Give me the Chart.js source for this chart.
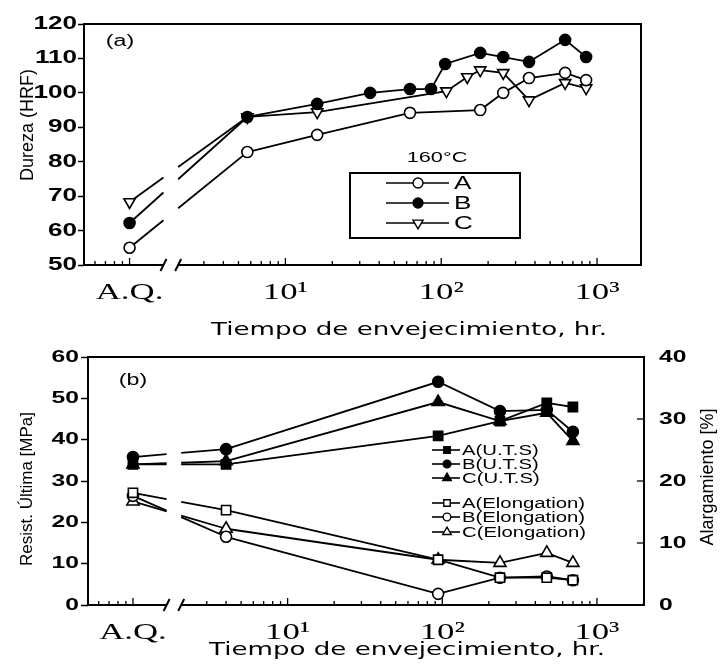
<!DOCTYPE html>
<html>
<head>
<meta charset="utf-8">
<script src="https://cdn.jsdelivr.net/npm/chart.js@4.4.1/dist/chart.umd.min.js"></script>
<style>
  html, body { margin: 0; padding: 0; background: #fff; }
  #wrap { position: relative; width: 722px; height: 664px; overflow: hidden; }
  canvas { position: absolute; left: 0; }
  #chartA { top: 0; width: 722px; height: 350px; }
  #chartB { top: 330px; width: 722px; height: 334px; }
</style>
</head>
<body>
<div id="wrap">
  <canvas id="chartA" width="722" height="350"></canvas>
  <canvas id="chartB" width="722" height="334"></canvas>
</div>
<script>
// ---- Datos (A.Q. = "as quenched", dibujado en x = 1) ----
var horasA = [1, 5.7, 16, 63, 178, 250, 366, 624, 851];
var durezaA = [55, 82.8, 87.8, 94.2, 95, 100, 104.3, 105.8, 103.7];
var horasB = [1, 5.7, 16, 35, 63, 86, 106, 178, 250, 366, 624, 851];
var durezaB = [62.2, 93, 96.8, 100, 101.1, 101.1, 108.4, 111.6, 110.4, 109, 115.4, 110.4];
var horasC = [1, 5.7, 16, 108, 147, 178, 250, 366, 624, 851];
var durezaC = [68.3, 93, 94.4, 100.5, 104.6, 106.6, 105.8, 97.9, 102.9, 101.4];

var horasTraccion = [1, 4, 94, 236, 474, 699];
var utsA = [34, 34, 40.9, 44.5, 48.9, 47.9];
var utsB = [35.8, 37.7, 54, 46.9, 47.2, 41.9];
var utsC = [34, 34.8, 49.1, 44.5, 46.5, 39.7];
var elongA = [18.1, 15.3, 7.3, 4.4, 4.4, 4.0];
var elongB = [17.6, 11, 1.8, 4.4, 4.6, 4.0];
var elongC = [16.7, 12.3, 7.3, 6.8, 8.4, 6.8];

var ticksLog = [1, 10, 100, 1000];
var ticksLogTexto = ['A.Q.', '10\u00b9', '10\u00b2', '10\u00b3'];

// ---- Apariencia ----
var SX = 1.45;            // el escaneo original tiene el texto estirado en horizontal
var CORTE = [1.65, 2.05]; // zona del corte del eje entre A.Q. y las horas

function estirarTexto(canvas) {
  var ctx = canvas.getContext('2d');
  var fill = ctx.fillText;
  ctx.fillText = function (t, x, y) {
    var m = this.getTransform();
    if (Math.abs(m.b) > 0.01) return fill.call(this, t, x, y); // texto girado: sin estirar
    this.save();
    this.translate(x, y);
    this.scale(SX, 1);
    fill.call(this, t, 0, 0);
    this.restore();
  };
}

function puntos(xs, ys) {
  return xs.map(function (x, i) { return { x: x, y: ys[i] }; });
}

// hueco en el primer tramo de cada línea, a la altura del corte del eje
function corteSegmento(ctx) {
  if (ctx.p0DataIndex !== 0) return undefined;
  var xs = ctx.chart.scales.x;
  var g0 = xs.getPixelForValue(CORTE[0]), g1 = xs.getPixelForValue(CORTE[1]);
  var dx = ctx.p1.x - ctx.p0.x;
  var len = Math.hypot(dx, ctx.p1.y - ctx.p0.y);
  var k = len / dx;
  return [(g0 - ctx.p0.x) * k, (g1 - g0) * k, len];
}

function serie(label, data, estilo, lleno, radio, extra) {
  var ds = {
    label: label,
    data: data,
    borderColor: '#000',
    borderWidth: 1.8,
    tension: 0,
    pointStyle: estilo,
    pointRadius: radio,
    pointBackgroundColor: lleno ? '#000' : '#fff',
    pointBorderColor: '#000',
    pointBorderWidth: 1.6,
    segment: { borderDash: corteSegmento }
  };
  return Object.assign(ds, extra || {});
}

function ejeX(min, max, alto) {
  return {
    type: 'logarithmic',
    min: min,
    max: max,
    afterBuildTicks: function (s) {
      s.ticks = ticksLog.map(function (v) { return { value: v }; });
    },
    afterFit: function (s) { s.height = alto; },
    ticks: {
      padding: 5,
      color: '#000',
      maxRotation: 0,
      autoSkip: false,
      font: { family: 'Liberation Serif', size: 24 },
      callback: function (v) {
        var i = ticksLog.indexOf(v);
        return i < 0 ? '' : ticksLogTexto[i];
      }
    },
    grid: { display: false },
    border: { display: false }
  };
}

var decor = {
  id: 'decor',
  afterDraw: function (chart, args, o) {
    var ctx = chart.ctx, a = chart.chartArea, xs = chart.scales.x;
    ctx.save();
    ctx.strokeStyle = '#000';
    ctx.fillStyle = '#000';
    ctx.lineWidth = 2;
    ctx.strokeRect(a.left, a.top, a.right - a.left, a.bottom - a.top);

    // marcas menores del eje logarítmico, hacia adentro
    ctx.lineWidth = 1.3;
    for (var n = -1; n <= 3; n++) {
      for (var k = 1; k <= 9; k++) {
        var v = k * Math.pow(10, n);
        if (v <= xs.min || v >= xs.max || (v > CORTE[0] - 0.15 && v < CORTE[1] + 0.2)) continue;
        var px = xs.getPixelForValue(v);
        ctx.beginPath();
        ctx.moveTo(px, a.bottom);
        ctx.lineTo(px, a.bottom - (k === 1 ? 7 : 4));
        ctx.stroke();
      }
    }

    // marcas del eje derecho, hacia adentro
    var y2 = chart.scales.y2;
    if (y2) {
      y2.ticks.forEach(function (t) {
        var py = y2.getPixelForValue(t.value);
        ctx.beginPath();
        ctx.moveTo(a.right, py);
        ctx.lineTo(a.right - 7, py);
        ctx.stroke();
      });
    }

    // corte del eje
    var g0 = xs.getPixelForValue(CORTE[0]), g1 = xs.getPixelForValue(CORTE[1]);
    ctx.fillStyle = '#fff';
    ctx.fillRect(g0, a.bottom - 3, g1 - g0, 6);
    ctx.lineWidth = 2;
    [g0, g1].forEach(function (g) {
      ctx.beginPath();
      ctx.moveTo(g - 3, a.bottom + 6);
      ctx.lineTo(g + 3, a.bottom - 6);
      ctx.stroke();
    });

    // textos sueltos y títulos de ejes
    ctx.fillStyle = '#000';
    o.textos.forEach(function (t) {
      ctx.save();
      ctx.font = t.font;
      ctx.textAlign = 'center';
      ctx.textBaseline = 'middle';
      ctx.translate(t.x, t.y);
      if (t.rot) ctx.rotate(t.rot * Math.PI / 180);
      ctx.fillText(t.t, 0, 0);
      ctx.restore();
    });

    // leyenda
    var lg = o.leyenda;
    if (lg.caja) {
      ctx.lineWidth = 2;
      ctx.strokeRect(lg.caja[0], lg.caja[1], lg.caja[2], lg.caja[3]);
    }
    ctx.font = lg.font;
    ctx.textAlign = 'left';
    ctx.textBaseline = 'middle';
    chart.data.datasets.forEach(function (ds, i) {
      var y = lg.filas[i];
      ctx.lineWidth = 1.6;
      ctx.strokeStyle = '#000';
      ctx.beginPath();
      ctx.moveTo(lg.linea[0], y);
      ctx.lineTo(lg.linea[1], y);
      ctx.stroke();
      ctx.fillStyle = ds.pointBackgroundColor;
      ctx.lineWidth = 1.4;
      Chart.helpers.drawPoint(ctx, {
        pointStyle: ds.pointStyle,
        rotation: ds.pointRotation || 0,
        radius: ds.pointRadius * lg.escala,
        borderWidth: 1.4
      }, lg.marca, y);
      ctx.fillStyle = '#000';
      ctx.fillText(ds.label, lg.texto, y + 1);
    });
    ctx.restore();
  }
};

Chart.defaults.font.family = 'Liberation Sans';
Chart.defaults.color = '#000';

// ---- (a) Dureza ----
var cA = document.getElementById('chartA');
estirarTexto(cA);
new Chart(cA, {
  type: 'line',
  data: {
    datasets: [
      serie('A', puntos(horasA, durezaA), 'circle', false, 5.5),
      serie('B', puntos(horasB, durezaB), 'circle', true, 5.5),
      serie('C', puntos(horasC, durezaC), 'triangle', false, 6.5, { pointRotation: 180 })
    ]
  },
  options: {
    responsive: false,
    animation: false,
    events: [],
    layout: { padding: { top: 24, right: 81, left: 0, bottom: 0 } },
    scales: {
      x: ejeX(0.51, 1915, 85),
      y: {
        min: 50,
        max: 120,
        afterFit: function (s) { s.width = 84; },
        ticks: { stepSize: 10, padding: 1, font: { size: 18, weight: 'bold' } },
        grid: { drawOnChartArea: false, tickLength: 6, tickColor: '#000', tickWidth: 1.5 },
        border: { display: false }
      }
    },
    plugins: {
      legend: { display: false },
      tooltip: { enabled: false },
      decor: {
        textos: [
          { t: '(a)', x: 120, y: 42, font: '16px Liberation Sans' },
          { t: '160\u00b0C', x: 437, y: 158, font: '15px Liberation Sans' },
          { t: 'Tiempo de envejecimiento, hr.', x: 409, y: 330, font: '18px DejaVu Sans' },
          { t: 'Dureza (HRF)', x: 28, y: 125, rot: -90, font: '18px Liberation Sans' }
        ],
        leyenda: {
          caja: [350, 173, 170, 65],
          filas: [183, 203, 223],
          linea: [386, 449],
          marca: 418,
          texto: 454,
          escala: 0.9,
          font: '18px Liberation Sans'
        }
      }
    }
  },
  plugins: [decor]
});

// ---- (b) Resistencia última y alargamiento ----
var cB = document.getElementById('chartB');
estirarTexto(cB);
new Chart(cB, {
  type: 'line',
  data: {
    datasets: [
      serie('A(U.T.S)', puntos(horasTraccion, utsA), 'rect', true, 6.5),
      serie('B(U.T.S)', puntos(horasTraccion, utsB), 'circle', true, 5.5),
      serie('C(U.T.S)', puntos(horasTraccion, utsC), 'triangle', true, 7),
      serie('A(Elongation)', puntos(horasTraccion, elongA), 'rect', false, 6.5, { yAxisID: 'y2' }),
      serie('B(Elongation)', puntos(horasTraccion, elongB), 'circle', false, 5.5, { yAxisID: 'y2' }),
      serie('C(Elongation)', puntos(horasTraccion, elongC), 'triangle', false, 7, { yAxisID: 'y2' })
    ]
  },
  options: {
    responsive: false,
    animation: false,
    events: [],
    layout: { padding: { top: 27, right: 0, left: 0, bottom: 0 } },
    scales: {
      x: ejeX(0.512, 2015, 59),
      y: {
        min: 0,
        max: 60,
        afterFit: function (s) { s.width = 88; },
        ticks: { stepSize: 10, padding: 2, font: { size: 17, weight: 'bold' } },
        grid: { drawOnChartArea: false, tickLength: 7, tickColor: '#000', tickWidth: 1.5 },
        border: { display: false }
      },
      y2: {
        position: 'right',
        min: 0,
        max: 40,
        afterFit: function (s) { s.width = 78; },
        ticks: { stepSize: 10, padding: 7, font: { size: 17, weight: 'bold' } },
        grid: { display: false },
        border: { display: false }
      }
    },
    plugins: {
      legend: { display: false },
      tooltip: { enabled: false },
      decor: {
        textos: [
          { t: '(b)', x: 133, y: 51, font: '16px Liberation Sans' },
          { t: 'Tiempo de envejecimiento, hr.', x: 407, y: 320, font: '18px DejaVu Sans' },
          { t: 'Resist. \u00daltima [MPa]', x: 27, y: 159, rot: -90, font: '17px Liberation Sans' },
          { t: 'Alargamiento [%]', x: 708, y: 147, rot: -90, font: '18px Liberation Sans' }
        ],
        leyenda: {
          caja: null,
          filas: [120, 134, 148, 173, 187, 202],
          linea: [432, 460],
          marca: 447,
          texto: 462,
          escala: 0.7,
          font: '14px Liberation Sans'
        }
      }
    }
  },
  plugins: [decor]
});
</script>
</body>
</html>
